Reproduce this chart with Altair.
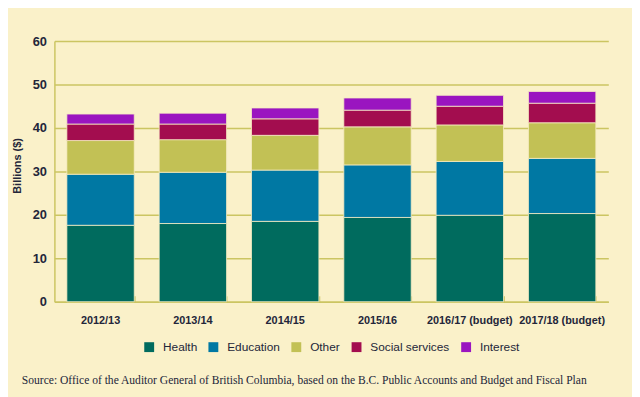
import altair as alt
import pandas as pd

years = ["2012/13", "2013/14", "2014/15", "2015/16", "2016/17 (budget)", "2017/18 (budget)"]
categories = ["Health", "Education", "Other", "Social services", "Interest"]
health = [17.6, 18.0, 18.5, 19.4, 19.9, 20.3]
education = [11.75, 11.8, 11.8, 12.1, 12.4, 12.7]
other = [7.75, 7.5, 8.0, 8.75, 8.4, 8.2]
social = [3.8, 3.6, 3.8, 3.85, 4.3, 4.5]
interest = [2.3, 2.5, 2.5, 2.8, 2.5, 2.7]
colors = ["#006B5E", "#0078A3", "#C2C155", "#A30D4F", "#9A15C0"]
y_ticks = [0, 10, 20, 30, 40, 50, 60]
source_text = ("Source: Office of the Auditor General of British Columbia, based on the "
               "B.C. Public Accounts and Budget and Fiscal Plan")

series = [health, education, other, social, interest]
rows = []
for ci, (cat, vals) in enumerate(zip(categories, series)):
    for y, v in zip(years, vals):
        rows.append({"year": y, "category": cat, "value": v, "order": ci})
df = pd.DataFrame(rows)

FONT = "Liberation Sans, Arial, sans-serif"
OLIVE = "#CBC562"
TEXT = "#23263a"
BG = "#FAF1C9"

xscale = alt.Scale(paddingInner=0.27, paddingOuter=0.135)

bars = alt.Chart(df).mark_bar(stroke="#F6ECC2", strokeWidth=0.8).encode(
    x=alt.X("year:N", sort=years, scale=xscale,
            axis=alt.Axis(orient="bottom", title=None, labelAngle=0, ticks=False, tickSize=0,
                          domainColor=OLIVE, domainWidth=1.5, labelFont=FONT,
                          labelFontSize=11, labelFontWeight="bold", labelColor=TEXT,
                          labelPadding=13, grid=False)),
    y=alt.Y("value:Q", stack="zero", scale=alt.Scale(domain=[0, 60], nice=False),
            axis=alt.Axis(values=y_ticks, grid=True, gridColor=OLIVE, gridWidth=1.5,
                          domainColor=OLIVE, domainWidth=1.5, ticks=False, tickSize=0,
                          labelPadding=8, labelFont=FONT, labelFontSize=13,
                          labelFontWeight="bold", labelColor=TEXT,
                          title="Billions ($)", titleFont=FONT, titleFontSize=11,
                          titleFontWeight="bold", titleColor=TEXT,
                          titleX=-37, titleY=126, titleAngle=270,
                          titleAlign="center", titleBaseline="middle")),
    color=alt.Color("category:N", sort=categories,
                    scale=alt.Scale(domain=categories, range=colors),
                    legend=alt.Legend(orient="none", legendX=90, legendY=304,
                                      direction="horizontal", title=None,
                                      symbolType="square", symbolSize=100,
                                      symbolStrokeWidth=0, labelFont=FONT,
                                      labelFontSize=12, labelColor=TEXT,
                                      labelOffset=8, columnPadding=10)),
    order=alt.Order("order:Q", sort="ascending"),
)

tick_layer = alt.Chart(df).mark_bar(opacity=0).encode(
    x=alt.X("year:N", sort=years, scale=xscale,
            axis=alt.Axis(orient="bottom", offset=-6, tickBand="extent", labels=False,
                          domain=False, ticks=True, tickSize=6, tickColor=OLIVE,
                          tickWidth=1.5, title=None, grid=False)),
)

src = alt.Chart(pd.DataFrame({"t": [source_text]})).mark_text(
    align="left", baseline="middle", font="Liberation Serif, DejaVu Serif, serif",
    fontSize=11.7, color=TEXT
).encode(x=alt.value(-33), y=alt.value(343), text="t:N")

chart = alt.layer(bars, tick_layer, src).resolve_axis(x="independent").properties(
    width=561, height=264,
    padding={"left": 47, "top": 31, "right": 24, "bottom": 94},
    autosize="none", background=BG,
).configure_view(stroke=None)

chart.save("out.html", embed_options={"renderer": "svg", "actions": False})
